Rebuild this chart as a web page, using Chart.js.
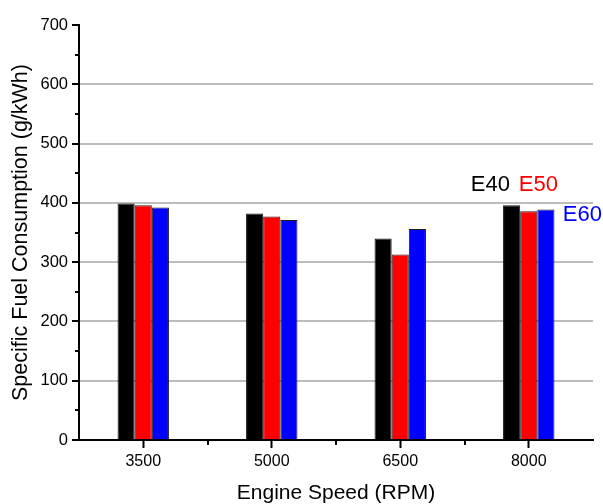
<!DOCTYPE html>
<html>
<head>
<meta charset="utf-8">
<script src="https://cdn.jsdelivr.net/npm/chart.js@4/dist/chart.umd.min.js"></script>
<style>
  html, body { margin: 0; padding: 0; background: #fff; }
  canvas { display: block; }
</style>
</head>
<body>
<canvas id="sfcChart" width="603" height="504"></canvas>
<script>
const engineSpeeds = ['3500', '5000', '6500', '8000'];
const e40Values = [399, 382, 340, 396];
const e50Values = [396, 377, 313, 386];
const e60Values = [392, 371, 356, 389];
const seriesNames = ['E40', 'E50', 'E60'];
const seriesColors = ['#000000', '#ff0000', '#0000ff'];

const FONT = 'Arial, "Liberation Sans", sans-serif';

// minor ticks (50s on y, between groups on x) plus the coloured series labels
const extrasPlugin = {
    id: 'extras',
    afterDraw(chart) {
        const ctx = chart.ctx;
        const x = chart.scales.x;
        const y = chart.scales.y;
        ctx.save();
        ctx.strokeStyle = '#000';
        ctx.lineWidth = 2;
        ctx.beginPath();
        for (let v = 50; v < 700; v += 100) {
            const py = Math.round(y.getPixelForValue(v));
            ctx.moveTo(x.left - 4, py);
            ctx.lineTo(x.left, py);
        }
        for (let i = 0; i < engineSpeeds.length - 1; i++) {
            const px = Math.round((x.getPixelForValue(i) + x.getPixelForValue(i + 1)) / 2);
            ctx.moveTo(px, y.bottom);
            ctx.lineTo(px, y.bottom + 5);
        }
        ctx.stroke();

        // series labels next to the last group
        const last = engineSpeeds.length - 1;
        const cx = x.getPixelForValue(last);
        ctx.font = '22px ' + FONT;
        ctx.textBaseline = 'middle';
        ctx.textAlign = 'left';
        ctx.fillStyle = seriesColors[0];
        ctx.fillText(seriesNames[0], cx - 58, y.getPixelForValue(430));
        ctx.fillStyle = seriesColors[1];
        ctx.fillText(seriesNames[1], cx - 10, y.getPixelForValue(430));
        ctx.fillStyle = seriesColors[2];
        ctx.fillText(seriesNames[2], cx + 34, y.getPixelForValue(379));
        ctx.restore();
    }
};

const data = {
    labels: engineSpeeds,
    datasets: [
        { label: seriesNames[0], data: e40Values, backgroundColor: seriesColors[0] },
        { label: seriesNames[1], data: e50Values, backgroundColor: seriesColors[1] },
        { label: seriesNames[2], data: e60Values, backgroundColor: seriesColors[2] }
    ].map(ds => Object.assign(ds, {
        borderColor: '#1a1a1a',
        borderWidth: 1,
        categoryPercentage: 0.4,
        barPercentage: 1.0
    }))
};

const options = {
    responsive: false,
    animation: false,
    layout: { padding: { top: 25, right: 10, left: 0, bottom: 0 } },
    plugins: {
        legend: { display: false },
        tooltip: { enabled: false }
    },
    scales: {
        x: {
            type: 'category',
            offset: true,
            afterFit(scale) { scale.height = 64; },
            border: { color: '#000', width: 2 },
            grid: {
                offset: false,
                drawOnChartArea: false,
                tickLength: 8,
                tickWidth: 2,
                tickColor: '#000'
            },
            ticks: {
                color: '#000',
                padding: 4,
                font: { family: FONT, size: 16 }
            },
            title: {
                display: true,
                text: 'Engine Speed (RPM)',
                color: '#000',
                font: { family: FONT, size: 21 },
                padding: { top: 0, bottom: -2 }
            }
        },
        y: {
            min: 0,
            max: 700,
            afterFit(scale) { scale.width = 79; },
            border: { color: '#000', width: 2 },
            grid: {
                color: ctx => (ctx.tick && ctx.tick.value > 0 && ctx.tick.value < 700) ? '#bdbdbd' : 'rgba(0,0,0,0)',
                lineWidth: 2,
                tickLength: 7,
                tickWidth: 2,
                tickColor: '#000'
            },
            ticks: {
                stepSize: 100,
                color: '#000',
                padding: 4,
                font: { family: FONT, size: 16.5 }
            },
            title: {
                display: true,
                text: 'Specific Fuel Consumption (g/kWh)',
                color: '#000',
                font: { family: FONT, size: 21.5 },
                padding: { top: 8, bottom: 0 }
            }
        }
    }
};

new Chart(document.getElementById('sfcChart'), {
    type: 'bar',
    data: data,
    options: options,
    plugins: [extrasPlugin]
});
</script>
</body>
</html>
